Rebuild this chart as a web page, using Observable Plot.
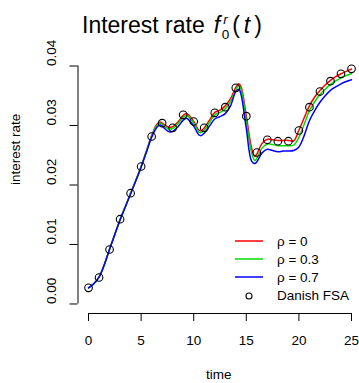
<!DOCTYPE html>
<html>
<head>
<meta charset="utf-8">
<script src="https://cdn.jsdelivr.net/npm/d3@7"></script>
<script src="https://cdn.jsdelivr.net/npm/@observablehq/plot@0.6"></script>
<style>
  html, body { margin: 0; padding: 0; background: #fff; }
  #wrap { position: relative; width: 359px; height: 383px; font-family: "Liberation Sans", Arial, Helvetica, sans-serif; color: #000; }
  #title { position: absolute; left: 82px; top: 10px; font-size: 23px; line-height: 30px; white-space: nowrap; }
  #title span { display: inline-block; }
  #legend { position: absolute; left: 235px; top: 232px; font-size: 13.5px; }
  .row { display: flex; align-items: center; height: 18.2px; }
  .sw { width: 28px; height: 18px; margin-right: 14px; }
</style>
</head>
<body>
<div id="wrap"></div>
<script>
// ---- data ----
const times = [0,0.5,1,1.5,2,2.5,3,3.5,4,4.5,5,5.5,6,6.5,6.8,7,7.5,7.8,8,8.5,9,9.3,9.5,10,10.5,10.7,11,11.5,12,12.5,13,13.5,14,14.3,14.5,15,15.5,15.8,16,16.5,17,17.5,18,18.5,19,19.5,20,20.5,21,21.5,22,22.5,23,23.5,24,24.5,25];
const rho0  = [.0027,.0034,.0045,.0066,.0092,.0117,.0142,.0164,.0186,.0208,.0231,.0257,.0283,.0302,.0306,.0304,.0298,.0297,.0298,.0306,.0317,.0320,.0318,.0307,.0292,.0291,.0296,.0309,.0322,.0326,.0333,.0345,.0364,.0370,.0365,.0316,.0262,.0248,.0252,.0270,.0277,.0276,.0275,.0275,.0275,.0274,.0292,.0313,.0333,.0348,.0359,.0368,.0376,.0382,.0387,.0391,.0395];
const rho03 = [.0027,.0034,.0045,.0066,.0092,.0117,.0142,.0164,.0186,.0208,.0231,.0256,.0282,.0300,.0304,.0302,.0295,.0294,.0295,.0303,.0314,.0317,.0315,.0304,.0289,.0288,.0292,.0305,.0318,.0322,.0328,.0340,.0360,.0367,.0361,.0308,.0254,.0241,.0245,.0262,.0269,.0268,.0266,.0266,.0266,.0267,.0280,.0302,.0325,.0340,.0352,.0361,.0369,.0375,.0380,.0384,.0387];
const rho07 = [.0027,.0034,.0045,.0066,.0092,.0117,.0141,.0163,.0185,.0207,.0230,.0255,.0280,.0297,.0301,.0299,.0291,.0289,.0290,.0298,.0309,.0312,.0310,.0299,.0284,.0283,.0287,.0299,.0311,.0315,.0320,.0333,.0357,.0361,.0352,.0295,.0240,.0236,.0239,.0254,.0260,.0258,.0256,.0257,.0257,.0258,.0264,.0283,.0308,.0325,.0339,.0350,.0359,.0365,.0370,.0374,.0377];
const fsaTimes = [0,1,2,3,4,5,6,7,8,9,10,11,12,13,14,15,16,17,18,19,20,21,22,23,24,25];
const fsaRates = [.00272,.00445,.00916,.01425,.01862,.02311,.02815,.03039,.02961,.0318,.03067,.02961,.03213,.03308,.03633,.03157,.02546,.0276,.02736,.02736,.02916,.03308,.03571,.03745,.03869,.03953];
const xTicks = [0,5,10,15,20,25];
const yTicks = [0,0.01,0.02,0.03,0.04];
const seriesNames = ["ρ = 0","ρ = 0.3","ρ = 0.7"];
const seriesColors = ["#FF0000","#00DD00","#0000FF"];
const fsaName = "Danish FSA";

// ---- build ----
const seriesValues = [rho0, rho03, rho07];
const lineData = seriesValues.flatMap((vals, i) => vals.map((v, j) => ({t: times[j], v, s: seriesNames[i]})));
const fsa = fsaTimes.map((t, i) => ({t, v: fsaRates[i]}));
const xDomain = [-1, 25.76];
const yDomain = [-0.0016, 0.0416];

const chart = Plot.plot({
  width: 359,
  height: 383,
  marginTop: 56,
  marginBottom: 70,
  marginLeft: 77.5,
  marginRight: 0,
  style: {fontFamily: '"Liberation Sans", Arial, Helvetica, sans-serif', fontSize: "13.5px", background: "white", color: "black", overflow: "visible"},
  x: {domain: xDomain, axis: null},
  y: {domain: yDomain, axis: null},
  color: {domain: seriesNames, range: seriesColors},
  marks: [
    Plot.ruleY([yDomain[0]], {x1: xTicks[0], x2: xTicks[xTicks.length - 1], stroke: "#000", strokeWidth: 1}),
    Plot.ruleX([xDomain[0]], {y1: yTicks[0], y2: yTicks[yTicks.length - 1], stroke: "#000", strokeWidth: 1}),
    Plot.axisX({ticks: xTicks, tickSize: 8, tickPadding: 14, fontSize: 13.5, label: null, stroke: "#000", tickFormat: d => String(d)}),
    Plot.axisY({ticks: yTicks, tickSize: 8, label: null, tickFormat: () => "", stroke: "#000"}),
    Plot.text(yTicks, {y: d => d, frameAnchor: "left", dx: -26, rotate: -90, text: d => d.toFixed(2), fontSize: 13.5}),
    Plot.text(["time"], {frameAnchor: "bottom", dy: 65, text: d => d, fontSize: 13.5}),
    Plot.text(["interest rate"], {frameAnchor: "left", dx: -62.5, rotate: -90, text: d => d, fontSize: 13.5}),
    Plot.line(lineData, {x: "t", y: "v", z: "s", stroke: "s", strokeWidth: 1.5, curve: "catmull-rom"}),
    Plot.dot(fsa, {x: "t", y: "v", r: 3.8, stroke: "#000", fill: "none", strokeWidth: 1.1})
  ]
});

const wrap = document.getElementById("wrap");
chart.style.position = "absolute";
chart.style.left = "0";
chart.style.top = "0";
wrap.appendChild(chart);

const title = document.createElement("div");
title.id = "title";
title.innerHTML =
  'Interest rate' +
  '<i style="margin-left:9px">f</i>' +
  '<span style="position:relative;top:-9.5px;font-size:13.5px;line-height:15px;font-style:italic;margin-left:3px">r</span>' +
  '<span style="position:relative;top:6px;font-size:13.5px;line-height:15px;margin-left:-6px">0</span>' +
  '<span style="margin-left:3px">(</span>' +
  '<i style="margin-left:4px">t</i>' +
  '<span style="margin-left:4px">)</span>';
wrap.appendChild(title);

const legend = document.createElement("div");
legend.id = "legend";
const rows = seriesNames.map((n, i) =>
  `<div class="row"><svg class="sw" viewBox="0 0 28 18"><line x1="0" x2="28" y1="9" y2="9" stroke="${seriesColors[i]}" stroke-width="1.5"/></svg><span>${n}</span></div>`);
rows.push(`<div class="row"><svg class="sw" viewBox="0 0 28 18"><circle cx="14" cy="9" r="3" fill="none" stroke="#000" stroke-width="1.1"/></svg><span>${fsaName}</span></div>`);
legend.innerHTML = rows.join("");
wrap.appendChild(legend);
</script>
</body>
</html>
